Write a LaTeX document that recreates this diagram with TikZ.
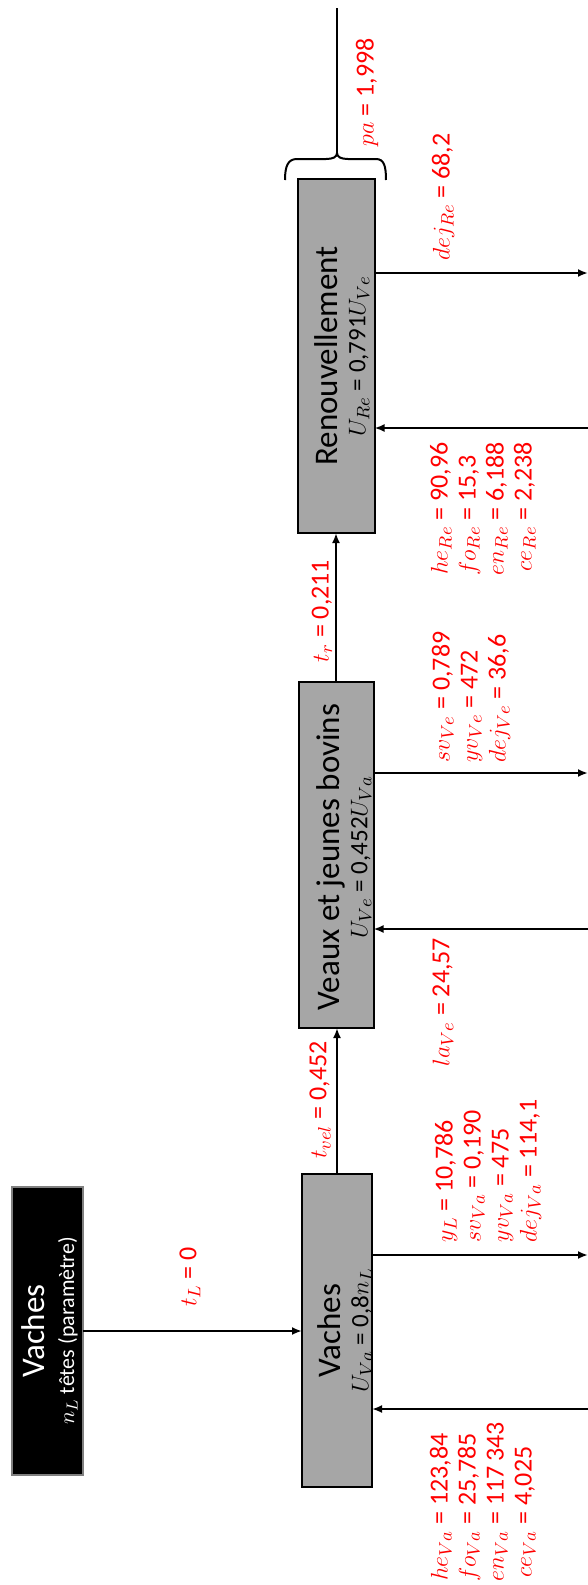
\documentclass[tikz,border=0pt]{standalone}
\usepackage{fontspec}
\setmainfont{Carlito}
\usetikzlibrary{arrows.meta,calc}
\definecolor{boxgray}{RGB}{166,166,166}
\definecolor{lblred}{RGB}{255,0,0}
\begin{document}
\begin{tikzpicture}[x=0.5pt,y=-0.5pt,
  every node/.style={inner sep=0pt, outer sep=0pt},
  procbox/.style={draw=black, line width=1pt, fill=boxgray, rectangle},
  srcbox/.style={draw=gray, line width=1pt, fill=black, rectangle},
  boxtext/.style={rotate=90, align=center, font=\fontsize{16.5}{18}\selectfont},
  lbl/.style={rotate=90, text=lblred, font=\fontsize{13}{14}\selectfont},
  flow/.style={draw=black, line width=1pt, -{Latex[length=5pt,width=4pt]}},
  plain/.style={draw=black, line width=1pt}]

\useasboundingbox (0,0) rectangle (588,1585);

% boxes
\node[srcbox, minimum width=35.5pt, minimum height=144pt] (src) at (47.5,1331) {};
\node[procbox, minimum width=35pt, minimum height=156.5pt] (va) at (337,1330.5) {};
\node[procbox, minimum width=37.5pt, minimum height=173pt] (ve) at (336,855) {};
\node[procbox, minimum width=38.5pt, minimum height=177pt] (re) at (336,356) {};

% box texts
\node[boxtext, text=white] (srct) at ($(src.center)+(2,0)$)
  {Vaches\\[-3pt]{\fontsize{11}{12}\selectfont $n_L$ têtes (paramètre)}};
\node[boxtext] (vat) at ($(va.center)+(8,0)$)
  {Vaches\\[-4pt]{\fontsize{12.5}{13}\selectfont $U_{Va}$ = 0,8$n_L$}};
\node[boxtext] (vet) at ($(ve.center)+(8,2)$)
  {Veaux et jeunes bovins\\[-4pt]{\fontsize{12.5}{13}\selectfont $U_{Ve}$ = 0,452$U_{Va}$}};
\node[boxtext] (ret) at ($(re.center)+(6,0)$)
  {Renouvellement\\[-4pt]{\fontsize{12.5}{13}\selectfont $U_{Re}$ = 0,791$U_{Ve}$}};

% connectors
\draw[flow] (src.east) -- (src.east -| va.west);
\draw[flow] (va.north) -- (va.north |- ve.south);
\draw[flow] (ve.north) -- (ve.north |- re.south);

\coordinate (vaout) at (588,1255);
\coordinate (vain) at (588,1409);
\coordinate (veout) at (588,773);
\coordinate (vein) at (588,929);
\coordinate (reout) at (588,273);
\coordinate (rein) at (588,428);
\draw[flow] (va.east |- vaout) -- (vaout);
\draw[flow] (vain) -- (va.east |- vain);
\draw[flow] (ve.east |- veout) -- (veout);
\draw[flow] (vein) -- (ve.east |- vein);
\draw[flow] (re.east |- reout) -- (reout);
\draw[flow] (rein) -- (re.east |- rein);

% brace above Renouvellement and exit line
\coordinate (btip) at (337,153);
\coordinate (topend) at (337,8);
\draw[plain] (285,180) .. controls (285,166) and (288,159) .. (297,159) -- (326,159)
  .. controls (333,159) and (337,157) .. (btip)
  .. controls (337,157) and (341,159) .. (348,159) -- (376,159)
  .. controls (384,159) and (386,166) .. (386,180);
\draw[plain] (btip) -- (topend);

% labels
\node[lbl] (ltl) at (190,1277) {$t_L$ = 0};
\node[lbl] (ltvel) at (320,1100) {$t_{vel}$ = 0,452};
\node[lbl] (ltr) at (322,611) {$t_r$ = 0,211};
\node[lbl] (lpa) at (367,92) {$pa$ = 1,998};
\node[lbl] (ldejre) at (443,197) {$dej_{Re}$ = 68,2};
\node[lbl] (linre) at (484,509) {\begin{tabular}{@{}r@{\ =\ }l@{}}
  $he_{Re}$ & 90,96\\ $fo_{Re}$ & 15,3\\ $en_{Re}$ & 6,188\\ $ce_{Re}$ & 2,238\end{tabular}};
\node[lbl] (llave) at (443,1002) {$la_{Ve}$ = 24,57};
\node[lbl] (loutve) at (472,697) {\begin{tabular}{@{}l@{}}
  $sv_{Ve}$ = 0,789\\ $yv_{Ve}$ = 472\\ $dej_{Ve}$ = 36,6\end{tabular}};
\node[lbl] (loutva) at (489,1171) {\begin{tabular}{@{}l@{}}
  $y_L$ = 10,786\\ $sv_{Va}$ = 0,190\\ $yv_{Va}$ = 475\\ $dej_{Va}$ = 114,1\end{tabular}};
\node[lbl] (linva) at (484,1502) {\begin{tabular}{@{}r@{\ =\ }l@{}}
  $he_{Va}$ & 123,84\\ $fo_{Va}$ & 25,785\\ $en_{Va}$ & 117\,343\\ $ce_{Va}$ & 4,025\end{tabular}};
\end{tikzpicture}
\end{document}
